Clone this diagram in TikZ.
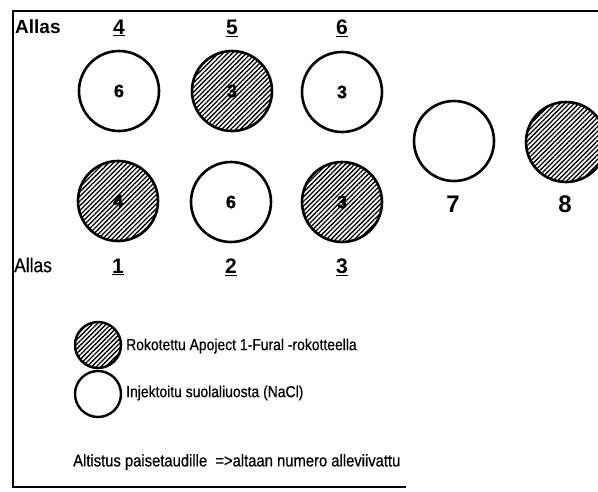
\documentclass[tikz,border=0pt]{standalone}
\usepackage{fontspec}
\setmainfont{Liberation Sans}
\newfontfamily\narrowfont[FakeStretch=0.87,FakeBold=0.5]{Liberation Sans}
\newfontfamily\heavyfont[FakeBold=1.2]{Liberation Sans}
\usetikzlibrary{patterns.meta}
\tikzset{
  pool/.style={circle, draw=black, line width=2.6pt, minimum size=80pt, inner sep=0pt, font=\heavyfont\fontsize{18}{18}\selectfont\bfseries},
  vacc/.style={pool, postaction={pattern={Lines[angle=45,distance=3.3pt,line width=1.3pt]}}},
  legvacc/.style={circle, draw=black, line width=2.4pt, minimum size=46pt, inner sep=0pt, postaction={pattern={Lines[angle=45,distance=3.3pt,line width=1.3pt]}}},
  legsalt/.style={circle, draw=black, line width=2.4pt, minimum size=46pt, inner sep=0pt},
  alias/.style={font=\fontsize{19}{19}\selectfont\bfseries, inner sep=0pt},
  aliasreg/.style={font=\narrowfont\fontsize{20}{20}\selectfont, inner sep=0pt},
  num/.style={font=\fontsize{21}{21}\selectfont\bfseries, inner sep=0pt},
  bignum/.style={font=\fontsize{24}{24}\selectfont\bfseries, inner sep=0pt},
  legtext/.style={font=\narrowfont\fontsize{16}{16}\selectfont, anchor=west, inner sep=0pt},
  frame/.style={line width=1.6pt}
}
\begin{document}
\begin{tikzpicture}[x=1pt,y=-1pt]
\useasboundingbox (0,0) rectangle (598,491);
% frame
\coordinate (ftl) at (13,11);
\coordinate (ftr) at (598,11);
\coordinate (fbl) at (13,487);
\coordinate (fbr) at (406,487);
\draw[frame] (ftr) -- (ftl) -- (fbl) -- (fbr);
% top labels
\node[alias, anchor=west] (allastop) at (15,27) {Allas};
\node[num] (l4) at (119,28) {\underline{4}};
\node[num] (l5) at (232,28) {\underline{5}};
\node[num] (l6) at (342,28) {\underline{6}};
% top row
\node[pool] (p4) at (119,91) {6};
\node[vacc] (p5) at (232,91) {3};
\node[pool] (p6) at (342,92) {3};
% bottom row
\node[vacc] (p1) at (118,201) {4};
\node[pool] (p2) at (231,202) {6};
\node[vacc] (p3) at (342,202) {3};
% right pools
\node[pool] (p7) at (454,141) {};
\node[vacc] (p8) at (566,142) {};
\node[bignum] (l7) at (453,204) {7};
\node[bignum] (l8) at (565,204) {8};
% bottom labels
\node[aliasreg, anchor=west] (allasbot) at (14,265) {Allas};
\node[num] (l1) at (118,267) {\underline{1}};
\node[num] (l2) at (231,267) {\underline{2}};
\node[num] (l3) at (342,267) {\underline{3}};
% legend
\node[legvacc] (lv) at (98,345) {};
\node[legtext] (tv) at (126,346) {Rokotettu Apoject 1-Fural -rokotteella};
\node[legsalt] (ls) at (98,394) {};
\node[legtext] (ts) at (126,393) {Injektoitu suolaliuosta (NaCl)};
\node[legtext, font=\narrowfont\fontsize{17}{17}\selectfont] (note) at (73,462) {Altistus paisetaudille \ =>altaan numero alleviivattu};
\end{tikzpicture}
\end{document}
